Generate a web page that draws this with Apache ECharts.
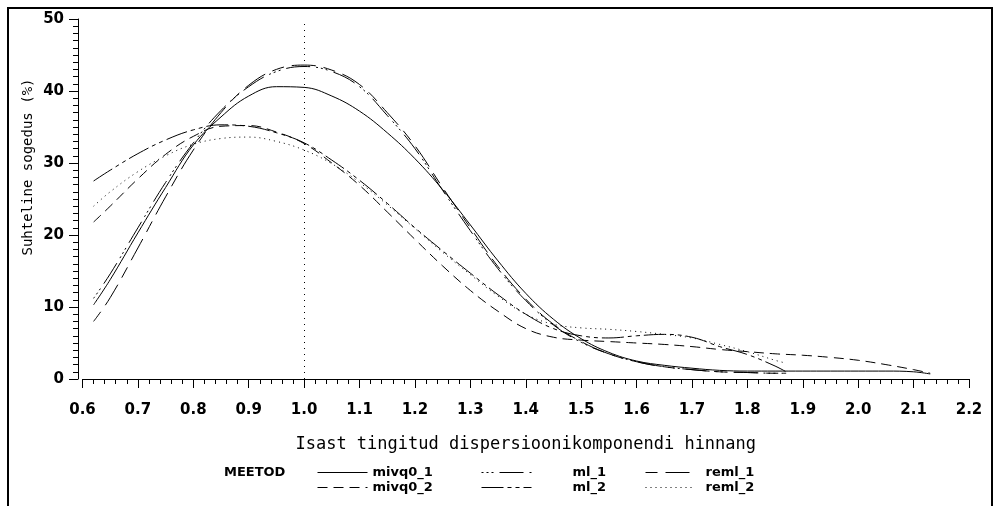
<!DOCTYPE html>
<html><head><meta charset="utf-8">
<script src="https://cdn.jsdelivr.net/npm/echarts@6/dist/echarts.min.js"></script>
<style>html,body{margin:0;padding:0;background:#fff}#c{width:994px;height:506px}</style>
</head><body><div id="c"></div>
<script>
// x positions of the estimated points
const xShort = [0.62,0.65,0.70,0.75,0.80,0.85,0.90,0.95,1.00,1.05,1.10,1.15,1.20,1.25,1.30,1.35,1.40,1.45,1.50,1.55,1.60,1.65,1.70,1.75,1.80,1.85,1.87];
const xLong  = [0.62,0.65,0.70,0.75,0.80,0.85,0.90,0.95,1.00,1.05,1.10,1.15,1.20,1.25,1.30,1.35,1.40,1.45,1.50,1.55,1.60,1.65,1.70,1.75,1.80,1.85,1.90,1.95,2.00,2.05,2.10,2.13];

// series values (%)
const mivq0_1 = [10.3,13.8,20.3,26.6,32.5,36.4,39.3,40.6,40.5,39.3,37.2,34.2,30.6,26.3,21.4,16.4,11.9,8.3,5.6,3.7,2.5,1.9,1.5,1.2,1.1,1.1,1.1,1.1,1.1,1.1,1.0,0.7];
const mivq0_2 = [21.8,24.0,27.8,31.2,33.7,35.1,35.2,34.3,32.7,30.0,26.9,23.2,19.4,15.7,12.3,9.4,7.0,5.8,5.4,5.2,5.0,4.8,4.5,4.1,3.8,3.5,3.3,3.0,2.6,2.0,1.3,0.8];
const ml_1    = [11.2,14.6,21.0,27.3,32.8,37.3,40.6,42.7,43.4,42.7,40.6,36.6,32.0,26.2,20.6,15.3,10.9,7.5,5.1,3.5,2.4,1.7,1.3,1.0,0.9,0.8,0.8];
const ml_2    = [27.5,29.0,31.3,33.2,34.6,35.3,35.1,34.2,32.8,30.4,27.6,24.4,21.0,17.8,14.7,11.7,9.0,7.0,6.0,5.7,6.0,6.2,5.8,4.5,3.4,1.8,1.0];
const reml_1  = [8.0,11.3,18.2,25.3,31.8,37.0,40.8,43.0,43.6,42.9,40.9,37.0,32.4,26.6,21.0,15.6,11.1,7.6,5.2,3.5,2.4,1.7,1.3,1.0,0.9,0.8,0.8];
const reml_2  = [24.0,26.0,28.8,31.0,32.6,33.4,33.6,33.0,31.8,29.9,27.3,24.2,20.9,17.6,14.5,11.5,9.0,7.6,7.1,6.9,6.6,6.2,5.7,4.8,3.8,2.6,2.2];

const seriesNames = ['mivq0_1','mivq0_2','ml_1','ml_2','reml_1','reml_2'];
const refX = 1.0;
const xTitle = 'Isast tingitud dispersioonikomponendi hinnang';
const yTitle = 'Suhteline sogedus (%)';
const legendTitle = 'MEETOD';

const seriesData = {
  mivq0_1: [xLong, mivq0_1],
  mivq0_2: [xLong, mivq0_2],
  ml_1: [xShort, ml_1],
  ml_2: [xShort, ml_2],
  reml_1: [xShort, reml_1],
  reml_2: [xShort, reml_2]
};
const dashes = {
  mivq0_1: 'solid',
  mivq0_2: [10, 6],
  ml_1: [2, 3, 2, 3, 2, 6, 24, 6],
  ml_2: [22, 4, 4, 4, 4, 4],
  reml_1: [12, 8, 24, 8],
  reml_2: [1, 4]
};
const legendPos = {
  mivq0_1: {left: 317, top: 466, pad: 0},
  mivq0_2: {left: 317, top: 481, pad: 0},
  ml_1:    {left: 481, top: 466, pad: 36},
  ml_2:    {left: 481, top: 481, pad: 36},
  reml_1:  {left: 645, top: 466, pad: 5},
  reml_2:  {left: 645, top: 481, pad: 5}
};

const series = seriesNames.map((n) => {
  const [xs, ys] = seriesData[n];
  const s = {
    name: n,
    type: 'line',
    data: xs.map((x, i) => [x, ys[i]]),
    symbol: 'none',
    smooth: 0.4,
    lineStyle: {color: '#000', width: 1, type: dashes[n]},
    itemStyle: {color: '#000'},
    silent: true
  };
  if (n === 'mivq0_1') {
    s.markLine = {
      symbol: 'none', silent: true, animation: false,
      label: {show: false},
      lineStyle: {color: '#000', width: 1, type: [1, 5]},
      data: [{xAxis: refX}]
    };
  }
  return s;
});

const legends = seriesNames.map((n) => ({
  data: [n],
  left: legendPos[n].left,
  top: legendPos[n].top,
  padding: 0,
  itemWidth: 50,
  itemHeight: 12,
  selectedMode: false,
  itemStyle: {opacity: 0},
  lineStyle: {color: '#000', width: 1, type: dashes[n], opacity: 1},
  textStyle: {
    color: '#000', fontFamily: 'DejaVu Sans', fontWeight: 'bold', fontSize: 13,
    padding: [0, 0, 0, legendPos[n].pad]
  }
}));

const chart = echarts.init(document.getElementById('c'), null, {renderer: 'canvas'});
chart.setOption({
  animation: false,
  backgroundColor: '#fff',
  grid: {left: 82.5, right: 25, top: 19, bottom: 127, containLabel: false},
  xAxis: {
    type: 'value', min: 0.6, max: 2.2, interval: 0.1, offset: 3,
    name: xTitle, nameLocation: 'middle', nameGap: 54,
    nameTextStyle: {color: '#000', fontFamily: 'DejaVu Sans Mono', fontSize: 17},
    axisLine: {show: true, lineStyle: {color: '#000', width: 1}},
    axisTick: {show: true, length: 9, lineStyle: {color: '#000'}},
    minorTick: {show: true, splitNumber: 5, length: 5, lineStyle: {color: '#000'}},
    splitLine: {show: false},
    axisLabel: {
      color: '#000', fontFamily: 'DejaVu Sans', fontWeight: 'bold', fontSize: 15, margin: 21,
      formatter: (v) => v.toFixed(1)
    }
  },
  yAxis: {
    type: 'value', min: 0, max: 50, interval: 10, offset: 4.5,
    axisLine: {show: true, lineStyle: {color: '#000', width: 1}},
    axisTick: {show: true, length: 9, lineStyle: {color: '#000'}},
    minorTick: {show: true, splitNumber: 10, length: 5, lineStyle: {color: '#000'}},
    splitLine: {show: false},
    axisLabel: {color: '#000', fontFamily: 'DejaVu Sans', fontWeight: 'bold', fontSize: 15, margin: 14}
  },
  legend: legends,
  graphic: [
    {type: 'polyline', silent: true, shape: {points: [[8, 506], [8, 8], [992, 8], [992, 506]]},
     style: {stroke: '#000', lineWidth: 2, fill: null}},
    {type: 'text', silent: true, x: 28, y: 167, rotation: Math.PI / 2,
     style: {text: yTitle, align: 'center', verticalAlign: 'middle', fill: '#000', font: '14px "DejaVu Sans Mono"'}},
    {type: 'text', silent: true, x: 224, y: 473,
     style: {text: legendTitle, align: 'left', verticalAlign: 'middle', fill: '#000', font: 'bold 13px "DejaVu Sans"'}}
  ],
  series: series
});
</script></body></html>
